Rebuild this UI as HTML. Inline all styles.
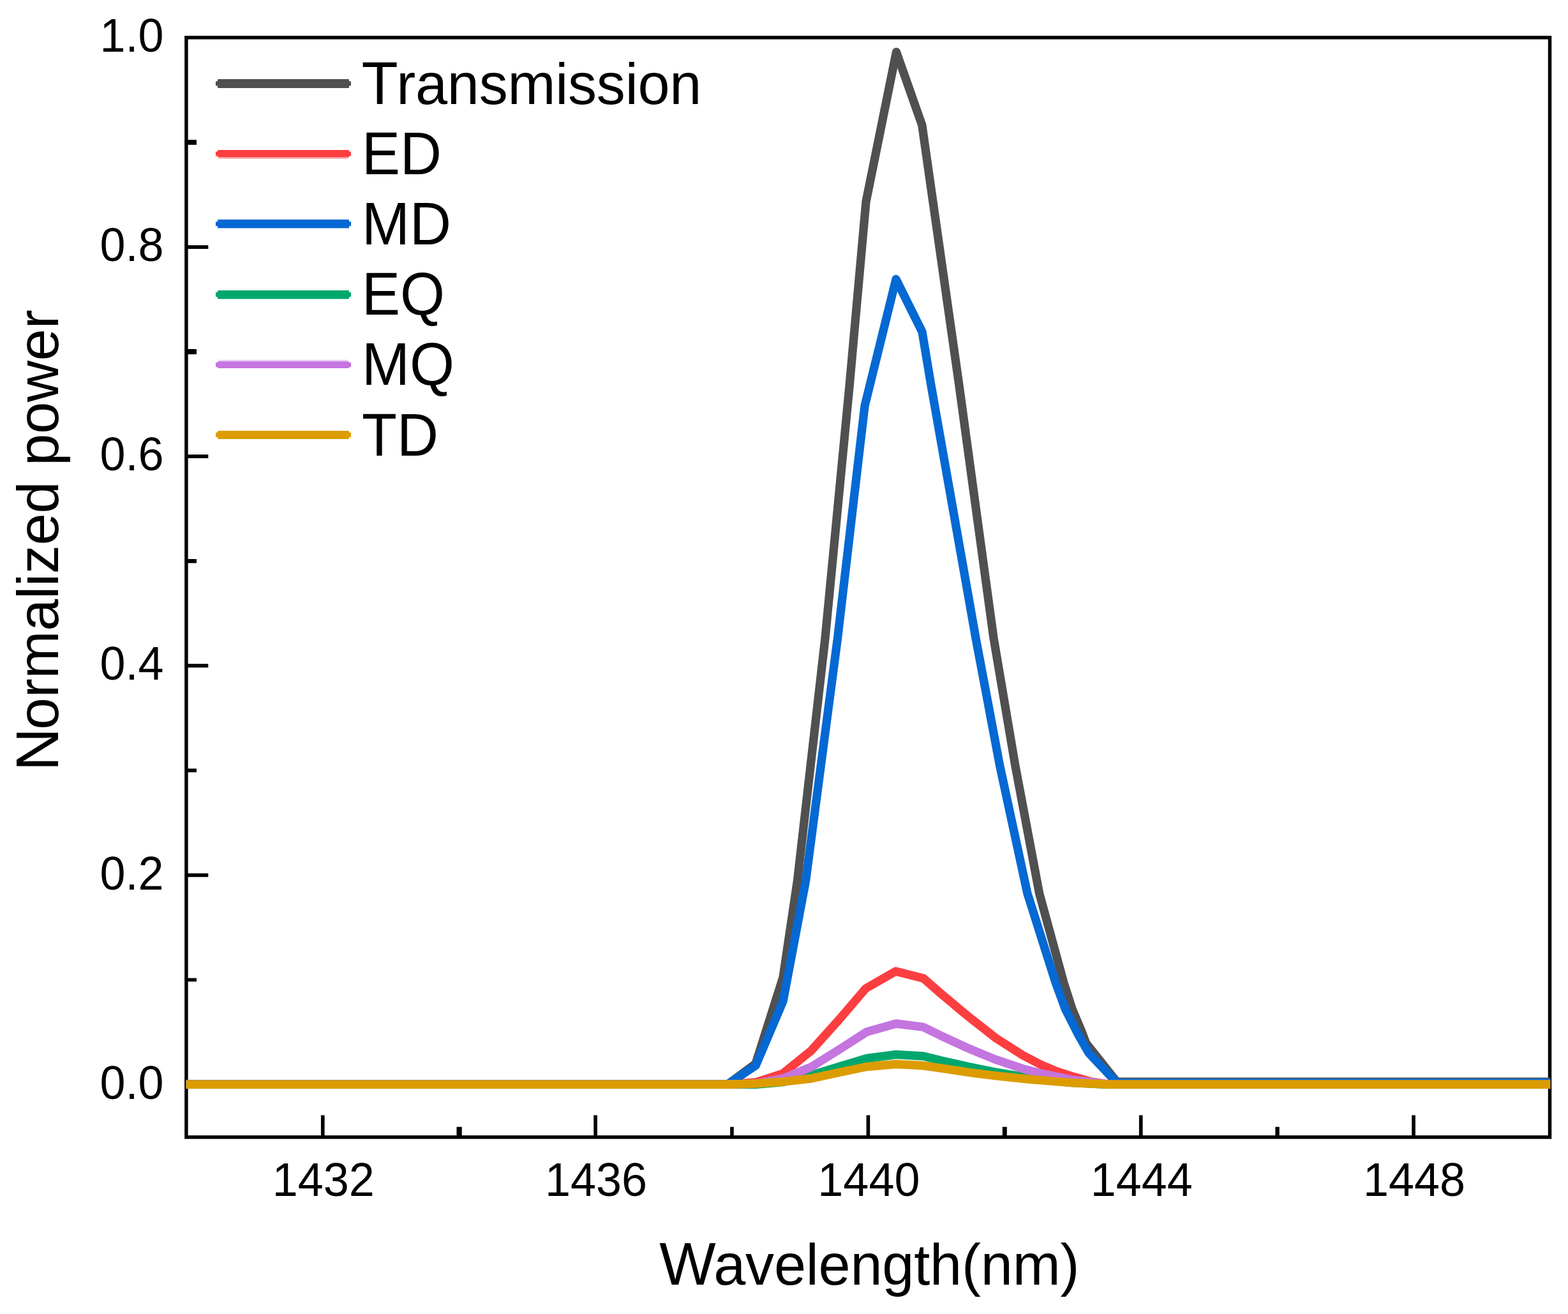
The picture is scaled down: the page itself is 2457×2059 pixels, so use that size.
<!DOCTYPE html>
<html lang="en">
<head>
<meta charset="utf-8">
<title>Normalized power vs Wavelength</title>
<style>
html,body{margin:0;padding:0;background:#fff;}
body{width:2457px;height:2059px;overflow:hidden;}
svg{display:block;}
text{font-family:"Liberation Sans","Arial","Helvetica",sans-serif;fill:#000;}
.tick{font-size:72px;}
.title{font-size:90px;}
.leg{font-size:90px;}
.curve{fill:none;stroke-width:13.4;stroke-linejoin:round;stroke-linecap:butt;}
</style>
</head>
<body>
<svg xmlns="http://www.w3.org/2000/svg" width="2457" height="2059" viewBox="0 0 2457 2059">
<rect x="0" y="0" width="2457" height="2059" fill="#ffffff"/>
<g id="ticks" stroke="#000">
<line stroke-width="5.7" x1="291.9" y1="1699.4" x2="326.3" y2="1699.4"/>
<line stroke-width="5.7" x1="291.9" y1="1371.31" x2="326.3" y2="1371.31"/>
<line stroke-width="5.7" x1="291.9" y1="1043.22" x2="326.3" y2="1043.22"/>
<line stroke-width="5.7" x1="291.9" y1="715.13" x2="326.3" y2="715.13"/>
<line stroke-width="5.7" x1="291.9" y1="387.04" x2="326.3" y2="387.04"/>
<line stroke-width="5.5" x1="291.9" y1="1535.35" x2="308" y2="1535.35"/>
<line stroke-width="5.8" x1="291.9" y1="1207.26" x2="308" y2="1207.26"/>
<line stroke-width="6.4" x1="291.9" y1="879.17" x2="308" y2="879.17"/>
<line stroke-width="8.2" x1="291.9" y1="551.08" x2="308" y2="551.08"/>
<line stroke-width="7.8" x1="291.9" y1="222.99" x2="308" y2="222.99"/>
<line stroke-width="5.7" x1="505.76" y1="1781.9" x2="505.76" y2="1747.5"/>
<line stroke-width="5.7" x1="933.08" y1="1781.9" x2="933.08" y2="1747.5"/>
<line stroke-width="5.7" x1="1360.4" y1="1781.9" x2="1360.4" y2="1747.5"/>
<line stroke-width="5.7" x1="1787.72" y1="1781.9" x2="1787.72" y2="1747.5"/>
<line stroke-width="5.7" x1="2215.04" y1="1781.9" x2="2215.04" y2="1747.5"/>
<line stroke-width="8.3" x1="719.62" y1="1781.9" x2="719.62" y2="1765.8"/>
<line stroke-width="5.6" x1="1146.94" y1="1781.9" x2="1146.94" y2="1765.8"/>
<line stroke-width="7" x1="1574.26" y1="1781.9" x2="1574.26" y2="1765.8"/>
<line stroke-width="6.4" x1="2001.58" y1="1781.9" x2="2001.58" y2="1765.8"/>
</g>
<rect x="291.9" y="58.85" width="2136.6" height="1723.05" fill="none" stroke="#000" stroke-width="5.5"/>
<defs><clipPath id="plotclip"><rect x="291.7" y="58.85" width="2137.5" height="1723.05"/></clipPath></defs>
<g id="curves" clip-path="url(#plotclip)">
<polyline class="curve" stroke="#505050" points="290,1699.3 1140,1699.3 1184,1667 1227,1531.5 1249.5,1380 1293,1000 1331.5,600 1357,316 1404.5,81.5 1444.8,196 1502.4,600 1557,1000 1590.9,1200 1628.6,1400 1666.9,1540 1680.1,1581 1695.2,1617 1702,1635 1750,1695.1 2430,1695.1"/>
<polyline class="curve" stroke="#fc3e40" points="290,1699.3 1140,1699.3 1184,1696 1227,1682 1271,1646.5 1315,1597.5 1356.5,1549 1403.5,1522 1447,1533 1473.2,1555.9 1516.4,1592.1 1559.6,1626.1 1602.8,1653.6 1631.1,1668.4 1656.7,1679.2 1682.2,1687.3 1707.8,1694.5 1733.4,1698.6 1751,1699.3 2430,1699.3"/>
<polyline class="curve" stroke="#0569d3" points="290,1699.3 1140,1699.3 1184.3,1669.5 1227,1569 1262.6,1380 1312.5,1000 1355,636 1404,437.5 1445,520 1458.3,600 1529,1000 1566.7,1200 1609.9,1400 1654.2,1540 1669.2,1581 1690,1622 1706,1650 1750,1696.6 2430,1696.6"/>
<polyline class="curve" stroke="#00a76c" points="290,1699.3 1184,1699.3 1227,1695.5 1271,1685 1315,1671.5 1358,1658.5 1404,1652.5 1447,1655 1473.2,1661.6 1516.4,1671.3 1559.6,1680 1592,1685.4 1630,1691.5 1680,1696.5 1733,1699.3 2430,1699.3"/>
<polyline class="curve" stroke="#c475df" points="290,1699.3 1140,1699.3 1184,1698 1227,1690 1271,1672 1315,1644.6 1358,1617 1404,1604 1447,1609.4 1473.2,1622.3 1516.4,1642.3 1559.6,1660.1 1602.8,1674.7 1631,1682 1682,1692.5 1733,1698.5 1751,1699.3 2430,1699.3"/>
<polyline class="curve" stroke="#dc9c00" points="290,1699.3 1140,1699.3 1184,1698 1227,1695 1271,1690 1315,1680.5 1358,1671.5 1404,1667.5 1447,1669.8 1473.2,1673.7 1516.4,1680.2 1559.6,1685.6 1610,1691 1682,1696.9 1733,1699 1751,1699.3 2430,1699.3"/>
</g>
<g id="legend">
<rect fill="#505050" x="341" y="124" width="206" height="13.9" rx="1.2"/>
<rect fill="#505050" x="338" y="127.35" width="212" height="7.2" rx="1"/>
<text class="leg" x="566.4" y="162.5"><tspan style="font-size:93.64px">T</tspan><tspan dx="-2.4" style="letter-spacing:-0.2px">ransmission</tspan></text>
<rect fill="#fc3e40" x="341" y="235" width="206" height="11.6" rx="1.2"/>
<rect fill="#fc3e40" x="338" y="237.4" width="212" height="7.2" rx="1"/>
<rect fill="#fc3e40" opacity="0.4" x="343" y="246.6" width="202" height="2.4"/>
<text class="leg" transform="translate(567,272.8) scale(0.9611,1)" style="font-size:93.64px">ED</text>
<rect fill="#0569d3" x="341" y="343.9" width="206" height="13.7" rx="1.2"/>
<rect fill="#0569d3" x="338" y="347.15" width="212" height="7.2" rx="1"/>
<text class="leg" transform="translate(567,383) scale(0.9611,1)" style="font-size:93.64px">MD</text>
<rect fill="#00a76c" x="341" y="455" width="206" height="13.4" rx="1.2"/>
<rect fill="#00a76c" x="338" y="458.1" width="212" height="7.2" rx="1"/>
<text class="leg" transform="translate(567,493.2) scale(0.9611,1)" style="font-size:93.64px">EQ</text>
<rect fill="#c475df" x="341" y="566.2" width="206" height="10.8" rx="1.2"/>
<rect fill="#c475df" x="338" y="568" width="212" height="7.2" rx="1"/>
<rect fill="#c475df" opacity="0.35" x="343" y="563.8" width="202" height="2.4"/>
<text class="leg" transform="translate(567,603.4) scale(0.9611,1)" style="font-size:93.64px">MQ</text>
<rect fill="#dc9c00" x="341" y="674.9" width="206" height="13.1" rx="1.2"/>
<rect fill="#dc9c00" x="338" y="677.85" width="212" height="7.2" rx="1"/>
<text class="leg" transform="translate(567,713.6) scale(0.9611,1)" style="font-size:93.64px">TD</text>
</g>
<g id="ylabels">
<text class="tick" transform="translate(256.5,1721.6) scale(0.9611,1)" style="font-size:74.91px" text-anchor="end">0.0</text>
<text class="tick" transform="translate(256.5,1393.51) scale(0.9611,1)" style="font-size:74.91px" text-anchor="end">0.2</text>
<text class="tick" transform="translate(256.5,1065.42) scale(0.9611,1)" style="font-size:74.91px" text-anchor="end">0.4</text>
<text class="tick" transform="translate(256.5,737.33) scale(0.9611,1)" style="font-size:74.91px" text-anchor="end">0.6</text>
<text class="tick" transform="translate(256.5,409.24) scale(0.9611,1)" style="font-size:74.91px" text-anchor="end">0.8</text>
<text class="tick" transform="translate(256.5,81.15) scale(0.9611,1)" style="font-size:74.91px" text-anchor="end">1.0</text>
</g>
<g id="xlabels">
<text class="tick" transform="translate(506.76,1874.1) scale(0.9611,1)" style="font-size:74.91px" text-anchor="middle">1432</text>
<text class="tick" transform="translate(934.08,1874.1) scale(0.9611,1)" style="font-size:74.91px" text-anchor="middle">1436</text>
<text class="tick" transform="translate(1361.4,1874.1) scale(0.9611,1)" style="font-size:74.91px" text-anchor="middle">1440</text>
<text class="tick" transform="translate(1788.72,1874.1) scale(0.9611,1)" style="font-size:74.91px" text-anchor="middle">1444</text>
<text class="tick" transform="translate(2216.04,1874.1) scale(0.9611,1)" style="font-size:74.91px" text-anchor="middle">1448</text>
</g>
<text class="title" x="1033.2" y="2012.8"><tspan style="font-size:93.64px">W</tspan><tspan dx="-3.4" style="letter-spacing:-0.17px">avelength(nm)</tspan></text>
<text class="title" transform="translate(90.9,1208.2) rotate(-90)" x="0" y="0"><tspan style="font-size:93.64px">N</tspan><tspan dx="-2.6" style="letter-spacing:-0.17px">ormalized power</tspan></text>
</svg>
</body>
</html>
